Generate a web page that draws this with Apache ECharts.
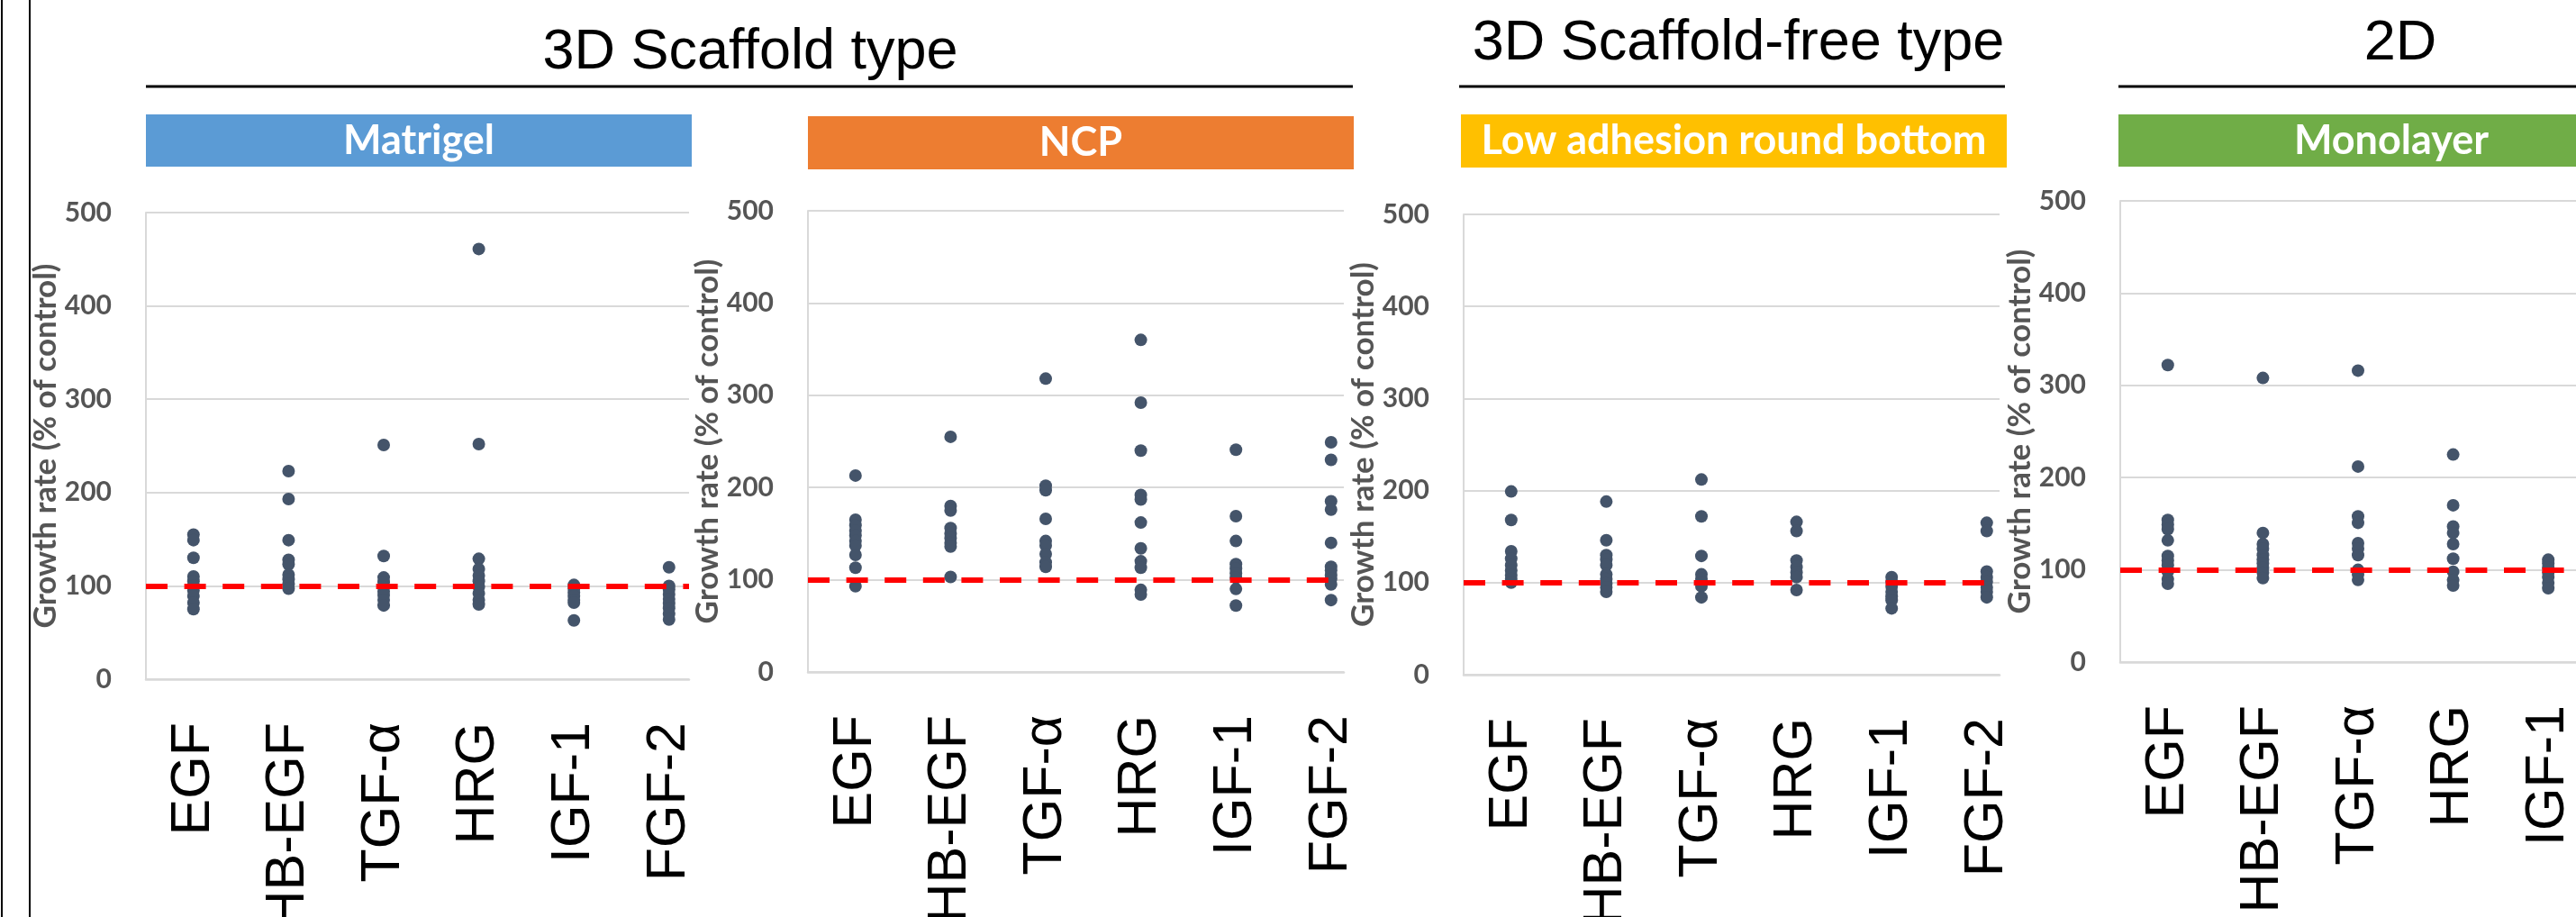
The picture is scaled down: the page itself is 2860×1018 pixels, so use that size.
<!DOCTYPE html>
<html>
<head>
<meta charset="utf-8">
<title>Growth rate by culture type</title>
<script src="https://cdn.jsdelivr.net/npm/echarts@6.0.0/dist/echarts.min.js"></script>
<style>
  html, body { margin: 0; padding: 0; background: #fff; }
  #chart { width: 2860px; height: 1018px; }
</style>
</head>
<body>
<div id="chart"></div>
<script>
// growth factors on the x axis (same order in every panel)
const factors = ['EGF', 'HB-EGF', 'TGF-α', 'HRG', 'IGF-1', 'FGF-2'];
const yTicks = [0, 100, 200, 300, 400, 500];
const controlLevel = 100;

// growth rate (% of control), one list per factor
const matrigel = [
  [155, 149, 130, 110, 105, 100, 95, 89, 82, 75],
  [223, 193, 149, 128, 123, 112, 107, 102, 97],
  [251, 132, 109, 104, 99, 94, 90, 85, 79],
  [461, 252, 129, 118, 111, 105, 99, 92, 85, 80],
  [101, 97, 93, 89, 85, 82, 63],
  [120, 100, 96, 91, 86, 81, 76, 70, 64],
];
const ncp = [
  [213, 165, 159, 153, 148, 142, 137, 127, 113, 93],
  [255, 180, 175, 156, 150, 145, 140, 136, 103],
  [318, 202, 197, 166, 142, 137, 128, 119, 114],
  [360, 292, 240, 192, 187, 162, 134, 120, 113, 89, 84],
  [241, 169, 142, 117, 112, 107, 102, 90, 72],
  [249, 230, 185, 176, 140, 114, 110, 105, 101, 95, 78],
];
const lowAdhesion = [
  [199, 168, 134, 126, 119, 113, 108, 104, 100],
  [188, 146, 130, 125, 119, 109, 104, 99, 95, 90],
  [212, 172, 129, 109, 104, 100, 96, 84],
  [166, 156, 124, 117, 111, 106, 92],
  [106, 101, 96, 90, 85, 81, 72],
  [165, 156, 112, 106, 101, 95, 90, 84],
];
const monolayer = [
  [322, 154, 149, 144, 132, 115, 110, 105, 98, 90, 85],
  [308, 140, 128, 123, 116, 111, 107, 102, 97, 91],
  [316, 212, 158, 151, 129, 123, 116, 100, 95, 89],
  [225, 170, 147, 140, 128, 112, 98, 89, 83],
  [111, 107, 102, 97, 92, 86, 80],
];

const panelData = [matrigel, ncp, lowAdhesion, monolayer];
const panelNames = ['Matrigel', 'NCP', 'Low adhesion round bottom', 'Monolayer'];
const groupNames = ['3D Scaffold type', '3D Scaffold-free type', '2D'];

// layout (pixels)
const panelColors = ['#5B9BD5', '#ED7D31', '#FFC000', '#70AD47'];
const grids = [
  { left: 162, top: 236, width: 603, height: 518 },
  { left: 897, top: 234, width: 595, height: 512 },
  { left: 1625, top: 238, width: 595, height: 511 },
  { left: 2354, top: 223, width: 600, height: 512 },
];
const banners = [
  { x: 162, y: 127, w: 606, h: 58 },
  { x: 897, y: 129, w: 606, h: 59 },
  { x: 1622, y: 127, w: 606, h: 59 },
  { x: 2352, y: 127, w: 606, h: 58 },
];
const groups = [
  { cx: 833, cy: 59, x1: 162, x2: 1502 },
  { cx: 1930, cy: 49, x1: 1620, x2: 2226 },
  { cx: 2665, cy: 49, x1: 2352, x2: 2960 },
];
const stepPx = 105.6;

const gray = '#555555';
const gridGray = '#D9D9D9';

function buildChart() {
  const chart = echarts.init(document.getElementById('chart'), null, { renderer: 'canvas' });

  const graphic = [
    { type: 'line', shape: { x1: 2, y1: 0, x2: 2, y2: 1018 }, style: { stroke: '#000', lineWidth: 2 } },
    { type: 'line', shape: { x1: 33, y1: 0, x2: 33, y2: 1018 }, style: { stroke: '#000', lineWidth: 2 } },
  ];

  groups.forEach((g, i) => {
    graphic.push({
      type: 'text', x: g.cx, y: g.cy,
      style: {
        text: groupNames[i], fill: '#000', fontSize: 63,
        fontFamily: 'Liberation Sans, Arial, sans-serif',
        align: 'center', verticalAlign: 'middle',
      },
    });
    graphic.push({
      type: 'line', shape: { x1: g.x1, y1: 96, x2: g.x2, y2: 96 },
      style: { stroke: '#000', lineWidth: 3 },
    });
  });

  banners.forEach((b, i) => {
    graphic.push({
      type: 'rect', shape: { x: b.x, y: b.y, width: b.w, height: b.h },
      style: { fill: panelColors[i] },
    });
    graphic.push({
      type: 'text', x: b.x + b.w / 2, y: b.y + b.h / 2,
      style: {
        text: panelNames[i], fill: '#fff', fontSize: 45, fontWeight: 'bold',
        fontFamily: 'Lato, sans-serif', align: 'center', verticalAlign: 'middle',
      },
    });
  });

  const option = {
    backgroundColor: '#fff',
    animation: false,
    graphic: graphic,
    grid: grids.map(g => ({ ...g, containLabel: false, outerBoundsMode: 'none' })),
    xAxis: grids.map((g, i) => ({
      type: 'value',
      gridIndex: i,
      min: 0.5,
      max: 0.5 + g.width / stepPx,
      axisLine: { show: true, lineStyle: { color: gridGray, width: 2.5 } },
      axisTick: { show: false },
      splitLine: { show: false },
      axisLabel: {
        customValues: factors.map((f, k) => k + 1),
        formatter: v => factors[v - 1],
        rotate: 90,
        margin: 48,
        fontSize: 61,
        color: '#000',
        fontFamily: 'Liberation Sans, Arial, sans-serif',
      },
    })),
    yAxis: grids.map((g, i) => ({
      type: 'value',
      gridIndex: i,
      min: yTicks[0],
      max: yTicks[yTicks.length - 1],
      interval: 100,
      name: 'Growth rate (% of control)',
      nameLocation: 'middle',
      nameGap: 80,
      nameTextStyle: {
        color: gray, fontSize: 35, fontWeight: 'bold', fontFamily: 'Lato, sans-serif',
      },
      axisLine: { show: true, lineStyle: { color: gridGray, width: 2 } },
      axisTick: { show: false },
      splitLine: { show: true, lineStyle: { color: gridGray, width: 2 } },
      axisLabel: {
        margin: 38, fontSize: 30, fontWeight: 'bold', color: gray, fontFamily: 'Lato, sans-serif',
      },
    })),
    series: panelData.map((panel, i) => ({
      type: 'scatter',
      xAxisIndex: i,
      yAxisIndex: i,
      symbol: 'circle',
      symbolSize: 14,
      itemStyle: { color: '#44546A', opacity: 1 },
      data: panel.flatMap((vals, k) => vals.map(v => [k + 1, v])),
      markLine: {
        silent: true,
        symbol: ['none', 'none'],
        label: { show: false },
        lineStyle: { color: '#FF0000', width: 6, type: [24, 18.6] },
        data: [{ yAxis: controlLevel }],
      },
    })),
  };

  chart.setOption(option);
  return chart;
}

buildChart();
</script>
</body>
</html>
